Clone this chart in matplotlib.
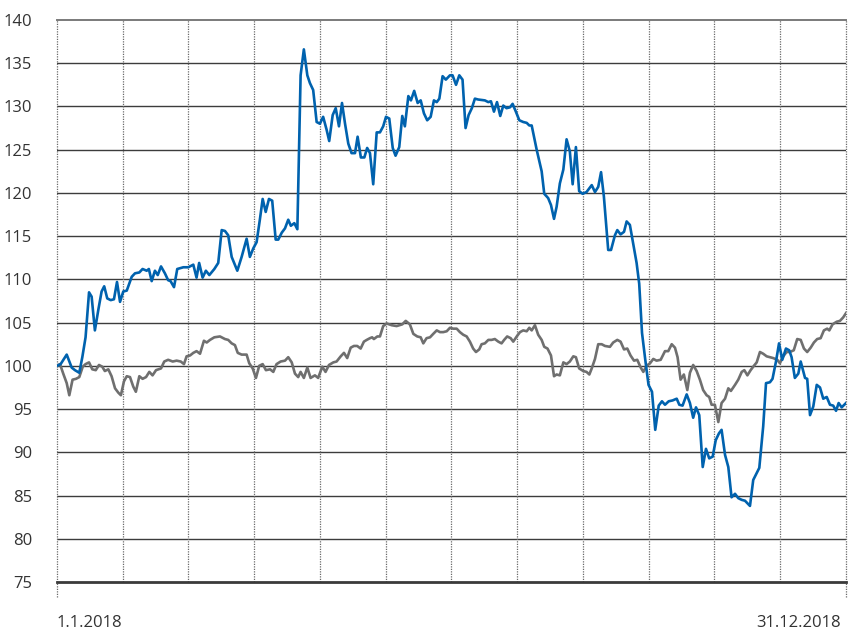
import matplotlib
matplotlib.use("Agg")
import matplotlib.pyplot as plt
from matplotlib.transforms import ScaledTranslation

plt.rcParams['font.family'] = ['Open Sans', 'DejaVu Sans']

# Day of year (0 = 1.1.2018, 364 = 31.12.2018) and index values
blue_days = [0, 1.7, 4.5, 6.8, 8.3, 10.3, 11.7, 13.2, 14.8, 16.0, 17.5, 19.1, 20.6, 21.8, 23.2, 24.8,
             26.3, 27.7, 29.1, 30.6, 32.2, 34.5, 36.0, 38.0, 39.5, 41.4, 42.4, 43.7, 45.2, 46.5, 48.0,
             49.8, 51.3, 52.4, 54.0, 55.5, 58.3, 60.6, 62.9, 64.4, 65.6, 67.2, 68.7, 70.3, 72.6, 74.4,
             76.0, 77.5, 79.0, 80.6, 83.2, 85.2, 87.5, 89.0, 90.6, 92.1, 93.6, 94.9, 96.3, 97.8, 99.3,
             100.9, 102.1, 103.7, 105.2, 106.7, 107.9, 109.5, 110.9, 112.4, 113.9, 115.5, 116.7, 118.2,
             119.8, 121.3, 122.8, 124.4, 125.6, 127.2, 128.6, 130.1, 131.5, 132.9, 134.4, 135.9, 137.5,
             138.7, 140.2, 141.8, 143.1, 144.4, 145.9, 147.5, 149.0, 150.5, 151.8, 153.3, 154.9, 156.2,
             157.9, 159.3, 160.5, 162.1, 163.3, 164.8, 166.4, 167.8, 169.3, 170.8, 172.4, 173.9, 175.2,
             176.4, 177.9, 179.4, 181.3, 182.5, 184.1, 185.6, 187.1, 188.5, 189.9, 191.4, 192.8, 194.3,
             197.4, 199.0, 200.2, 201.6, 203.0, 204.5, 205.9, 207.4, 209.0, 210.2, 211.7, 213.3, 215.1,
             216.7, 217.9, 219.0, 221.3, 223.6, 224.8, 226.6, 227.9, 229.3, 230.5, 232.0, 233.6, 235.1,
             236.6, 237.9, 239.4, 240.9, 242.5, 244.3, 246.7, 248.2, 249.7, 251.0, 252.3, 254.3, 255.6,
             257.4, 258.5, 260.0, 261.6, 262.8, 264.3, 265.8, 267.4, 268.6, 269.9, 271.4, 272.9, 274.5,
             276.0, 277.6, 279.1, 280.5, 282.2, 284.0, 285.9, 287.1, 288.6, 290.5, 292.0, 293.5, 294.8,
             296.3, 297.9, 299.4, 300.9, 302.5, 303.9, 305.4, 306.6, 308.2, 309.7, 311.2, 312.8, 314.3,
             315.9, 317.4, 319.7, 321.2, 324.0, 325.8, 327.1, 328.9, 330.1, 331.7, 333.1, 334.6, 336.3,
             337.8, 338.9, 340.4, 342.0, 343.1, 345.1, 346.1, 347.4, 348.9, 350.5, 352.0, 353.5, 355.1,
             356.6, 358.1, 359.4, 360.6, 362.0, 364.0]
blue_values = [100.0, 100.2, 101.3, 99.8, 99.5, 99.2, 101.0, 103.3, 108.5, 108.0, 104.1, 106.5, 108.6, 109.2,
               107.8, 107.6, 107.7, 109.7, 107.4, 108.6, 108.7, 110.3, 110.7, 110.8, 111.2, 111.0, 111.2,
               109.8, 111.0, 110.5, 111.5, 110.7, 109.9, 109.8, 109.1, 111.2, 111.4, 111.4, 111.7, 110.2,
               111.9, 110.2, 111.0, 110.5, 111.2, 111.9, 115.7, 115.6, 115.1, 112.6, 111.0, 112.6, 114.7,
               112.6, 113.6, 114.3, 116.9, 119.3, 117.8, 119.3, 119.1, 114.6, 114.6, 115.4, 115.9, 116.9,
               116.2, 116.5, 115.8, 133.6, 136.6, 133.6, 132.7, 131.9, 128.2, 128.0, 128.8, 127.3, 126.0,
               129.0, 129.8, 127.7, 130.4, 128.0, 125.7, 124.6, 124.6, 126.5, 124.1, 124.1, 125.2, 124.6,
               121.0, 127.0, 127.0, 127.7, 128.8, 128.6, 125.2, 124.3, 125.3, 128.9, 127.7, 131.2, 130.7,
               131.8, 130.4, 130.7, 129.2, 128.4, 128.8, 130.7, 130.5, 130.9, 133.5, 133.1, 133.6, 133.6,
               132.5, 133.6, 133.1, 127.5, 129.0, 129.8, 130.9, 130.8, 130.7, 130.5, 130.6, 129.4, 130.5,
               128.9, 130.1, 129.8, 129.9, 130.3, 129.4, 128.4, 128.2, 128.1, 127.8, 127.8, 125.0, 122.5,
               119.9, 119.4, 118.6, 117.0, 118.4, 121.1, 122.7, 126.2, 124.8, 121.0, 125.3, 120.2, 119.9,
               120.1, 120.9, 120.1, 120.7, 122.4, 119.6, 113.4, 113.4, 115.1, 115.7, 115.2, 115.5, 116.7,
               116.3, 114.2, 111.9, 109.5, 103.8, 100.7, 97.8, 97.0, 92.6, 95.4, 95.9, 95.5, 95.9, 96.0,
               96.2, 95.5, 95.4, 96.7, 95.7, 94.0, 95.2, 94.3, 88.3, 90.4, 89.3, 89.5, 91.4, 92.2, 92.6,
               89.7, 88.3, 84.8, 85.2, 84.7, 84.5, 84.4, 83.8, 86.8, 88.2, 93.0, 98.0, 98.1, 98.5, 100.5,
               102.6, 100.7, 102.0, 101.8, 101.0, 98.6, 99.1, 100.5, 98.6, 98.5, 94.3, 95.3, 97.8, 97.5,
               96.2, 96.4, 95.5, 95.4, 94.8, 95.7, 95.2, 95.7]

gray_days = [0, 1.4, 2.9, 4.5, 5.7, 7.2, 8.8, 10.3, 11.9, 13.2, 14.8, 16.3, 17.9, 19.4, 20.9, 22.1, 23.7,
             25.2, 26.8, 28.3, 29.5, 30.9, 32.2, 33.7, 35.2, 36.4, 38.0, 39.5, 41.1, 42.6, 44.1, 45.7,
             48.0, 49.5, 51.3, 53.4, 55.2, 57.1, 58.6, 59.8, 61.4, 62.9, 64.4, 66.0, 67.8, 69.1, 70.6,
             72.6, 75.2, 77.5, 79.0, 80.6, 82.1, 83.4, 85.2, 87.5, 88.7, 90.3, 91.8, 93.3, 94.9, 96.4,
             98.3, 99.8, 101.3, 103.2, 105.2, 106.7, 108.3, 109.8, 111.3, 112.4, 113.9, 115.5, 117.0,
             119.0, 120.5, 122.4, 123.9, 125.5, 127.5, 129.0, 130.9, 132.4, 133.9, 135.5, 137.0, 138.5,
             140.1, 141.6, 142.9, 144.4, 145.4, 146.2, 147.8, 149.0, 150.5, 152.1, 154.4, 156.7, 159.3,
             160.9, 162.8, 164.4, 166.2, 167.8, 169.0, 170.5, 172.1, 173.6, 175.2, 176.7, 178.2, 179.8,
             181.3, 182.8, 184.4, 185.9, 187.4, 189.0, 190.5, 192.0, 193.3, 194.8, 195.9, 197.4, 199.0,
             200.5, 202.0, 203.6, 205.1, 206.3, 207.7, 209.3, 210.5, 212.1, 213.6, 215.1, 216.7, 217.9,
             219.0, 220.5, 222.0, 223.6, 224.8, 226.3, 227.9, 229.3, 230.5, 232.0, 233.6, 235.1, 236.6,
             238.2, 239.4, 240.9, 242.8, 244.3, 245.6, 246.7, 248.2, 249.7, 251.3, 252.8, 255.1, 256.6,
             258.5, 260.0, 261.6, 263.1, 264.6, 266.2, 267.7, 269.3, 270.5, 272.0, 273.6, 275.1, 276.6,
             278.5, 280.5, 282.0, 283.6, 285.1, 286.3, 287.7, 289.2, 290.8, 292.0, 293.5, 295.1, 296.6,
             298.1, 299.7, 300.9, 302.0, 303.5, 305.1, 306.6, 308.2, 309.7, 310.9, 312.8, 314.3, 315.9,
             317.1, 318.5, 320.0, 321.5, 322.8, 324.3, 325.8, 327.4, 328.9, 330.4, 332.3, 333.5, 335.0,
             336.6, 338.1, 339.9, 341.5, 343.1, 344.6, 346.1, 347.7, 349.2, 350.7, 352.3, 353.8, 355.3,
             356.3, 357.8, 359.7, 361.2, 362.7, 364.0]
gray_values = [100.0, 100.2, 99.1, 98.0, 96.6, 98.4, 98.5, 98.7, 99.9, 100.2, 100.4, 99.6, 99.5, 100.1,
               99.9, 99.4, 99.6, 98.8, 97.4, 96.9, 96.6, 98.2, 98.8, 98.7, 97.6, 97.0, 98.8, 98.5, 98.7,
               99.3, 98.9, 99.5, 99.7, 100.5, 100.7, 100.5, 100.6, 100.5, 100.2, 101.1, 101.2, 101.5,
               101.7, 101.4, 102.9, 102.7, 103.0, 103.3, 103.4, 103.1, 103.0, 102.6, 102.4, 101.5, 101.3,
               101.3, 100.3, 99.7, 98.6, 100.0, 100.2, 99.5, 99.6, 99.3, 100.2, 100.5, 100.6, 101.0,
               100.4, 99.1, 98.7, 99.3, 98.6, 99.8, 98.6, 98.9, 98.6, 99.9, 99.3, 100.1, 100.4, 100.5,
               101.1, 101.5, 100.9, 102.1, 102.3, 102.3, 102.0, 102.8, 103.0, 103.2, 103.3, 103.1, 103.4,
               103.4, 104.6, 104.9, 104.7, 104.6, 104.8, 105.2, 104.8, 103.7, 103.4, 103.3, 102.6, 103.2,
               103.3, 103.7, 104.1, 103.9, 103.9, 104.0, 104.4, 104.3, 104.3, 103.9, 103.6, 103.4, 102.8,
               102.0, 101.6, 101.9, 102.5, 102.6, 103.0, 103.0, 103.1, 102.8, 102.6, 103.0, 103.4, 103.2,
               102.8, 103.4, 103.9, 104.1, 104.0, 104.4, 104.1, 104.7, 103.6, 103.0, 102.2, 102.0, 101.2,
               98.8, 99.0, 98.9, 100.4, 100.2, 100.5, 101.1, 101.0, 99.7, 99.4, 99.3, 99.0, 99.7, 100.8,
               102.5, 102.5, 102.3, 102.2, 102.7, 103.0, 102.8, 101.9, 102.0, 101.2, 100.6, 100.7, 99.8,
               99.3, 100.0, 100.3, 100.8, 100.6, 100.7, 101.7, 101.7, 102.5, 102.1, 101.0, 98.4, 99.0,
               97.2, 99.2, 100.1, 99.4, 98.4, 97.2, 96.6, 96.4, 95.5, 95.5, 93.5, 95.7, 96.2, 97.4, 97.1,
               97.8, 98.4, 99.3, 99.5, 98.9, 99.5, 100.0, 100.4, 101.6, 101.4, 101.1, 101.0, 100.9, 100.7,
               100.3, 101.1, 101.6, 101.6, 101.8, 103.1, 103.0, 102.0, 101.6, 102.1, 102.7, 103.1, 103.2,
               104.1, 104.3, 104.1, 104.8, 105.1, 105.2, 105.6, 106.1]

y_ticks = list(range(75, 141, 5))
x_tick_days = [0, 364]
x_tick_labels = ['1.1.2018', '31.12.2018']
n_months = 12

fig = plt.figure(figsize=(8.5, 6.34), dpi=100)
ax = fig.add_axes([0.067, 0.082, 0.9283, 0.8865])
ax.set_xlim(0, 364)
ax.set_ylim(75, 140)

# horizontal grid lines
for v in y_ticks:
    if v == 75:
        ax.axhline(v, color='#3a3a3a', lw=2.0, zorder=2, clip_on=False)
    elif v == 140:
        ax.axhline(v, color='#7a7a7a', lw=1.4, zorder=1, clip_on=False)
    else:
        ax.axhline(v, color='#3c3c3c', lw=1.0, zorder=1)

# vertical dotted month lines
for i in range(n_months + 1):
    xd = 364 * i / n_months
    if i in (0, n_months):
        ax.plot([xd, xd], [75 - 1.75, 140], color='#6a6a6a', lw=0.9,
                linestyle=(0, (1, 1)), zorder=1, clip_on=False)
    else:
        ax.axvline(xd, color='#6a6a6a', lw=0.9, linestyle=(0, (1, 1)), zorder=1)

ax.plot(gray_days, gray_values, color='#6f6f6f', lw=1.9, zorder=3, solid_joinstyle='round')
ax.plot(blue_days, blue_values, color='#0062ae', lw=1.9, zorder=4, solid_joinstyle='round')

for s in ax.spines.values():
    s.set_visible(False)

ax.set_yticks(y_ticks)
ax.set_yticklabels([str(v) for v in y_ticks])
ax.tick_params(axis='y', length=0, pad=18, labelsize=12, labelcolor='#333333')
ax.set_xticks(x_tick_days)
ax.set_xticklabels(x_tick_labels)
ax.tick_params(axis='x', length=0, pad=24, labelsize=12, labelcolor='#333333')
lbls = ax.get_xticklabels()
lbls[0].set_horizontalalignment('left')
lbls[-1].set_horizontalalignment('right')
lbls[-1].set_transform(lbls[-1].get_transform() + ScaledTranslation(-5 / 100, 0, fig.dpi_scale_trans))

fig.savefig('out.png', dpi=100)
